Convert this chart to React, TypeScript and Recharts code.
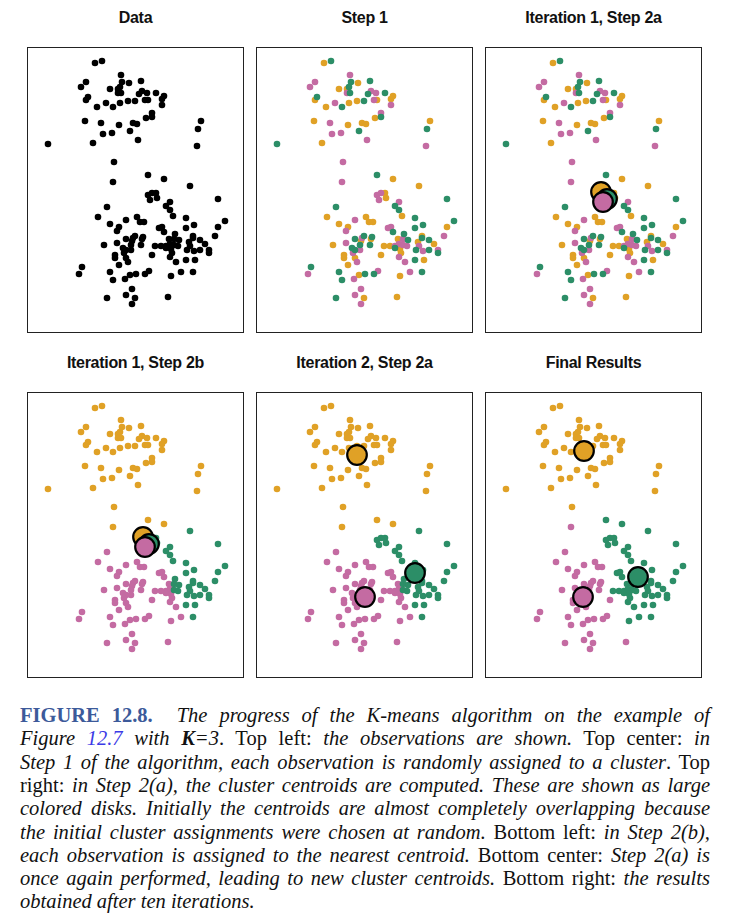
import { Scatter, ScatterChart, XAxis, YAxis } from "recharts";

// observation coordinates (same simulated data in every panel)
const obsX = [
  68, 75, 94, 59, 54, 95, 102, 114, 83, 91,
  93, 91, 94, 115, 112, 120, 118, 121, 129, 137,
  135, 135, 61, 59, 70, 79, 86, 93, 101, 108,
  125, 125, 119, 58, 74, 92, 106, 110, 103, 85,
  76, 174, 171, 170, 21, 66, 111, 87, 121, 137,
  86, 163, 121, 125, 129, 123, 130, 143, 139, 143,
  80, 191, 71, 146, 99, 110, 113, 117, 83, 92,
  90, 159, 167, 159, 198, 191, 132, 135, 137, 148,
  99, 108, 106, 105, 116, 115, 77, 90, 96, 99,
  104, 104, 114, 128, 134, 142, 147, 152, 139, 143,
  147, 151, 139, 144, 145, 143, 166, 166, 162, 163,
  160, 167, 173, 173, 178, 182, 182, 188, 88, 88,
  97, 99, 101, 125, 149, 159, 168, 92, 55, 52,
  83, 86, 98, 103, 109, 118, 122, 144, 154, 166,
  105, 99, 108, 105, 80, 141,
];
const obsY = [
  270, 272, 258, 251, 246, 251, 250, 252, 244, 244,
  246, 240, 240, 242, 239, 240, 233, 233, 240, 237,
  234, 228, 236, 233, 226, 230, 226, 230, 232, 232,
  220, 216, 215, 212, 210, 208, 210, 209, 202, 200,
  199, 212, 204, 187, 189, 190, 193, 171, 158, 154,
  151, 147, 138, 140, 140, 133, 135, 131, 127, 123,
  126, 134, 116, 117, 113, 116, 111, 111, 109, 106,
  102, 115, 108, 105, 112, 106, 105, 106, 101, 99,
  94, 97, 95, 92, 96, 94, 88, 90, 85, 83,
  88, 83, 88, 87, 87, 94, 94, 93, 87, 89,
  88, 87, 85, 84, 80, 76, 97, 95, 91, 87,
  83, 82, 83, 93, 89, 83, 80, 97, 78, 75,
  80, 75, 71, 78, 71, 73, 73, 68, 66, 59,
  61, 53, 54, 58, 59, 59, 62, 57, 61, 61,
  44, 38, 35, 29, 35, 36,
];

// cluster labels per step (O = orange, G = green, P = pink)
const step1Labels =
  "OGPPPGOGOO" + "GPGPGPPOGO" + "OPGOOPGOOG" + "PGOOPOOOGP" + "POGPGOPPGO" +
  "POPPOPOPGG" + "GGOOPOOOOO" + "PGGGGOPPGG" + "GGPOGOOPGG" + "GPGOOOPGPP" +
  "PPGOOPOGOP" + "GPGGOPGPOO" + "POPOPGOOGP" + "GGPOGGPOPG" + "PPOPGO";
const iter1Labels =
  "OOOOOOOOOO" + "OOOOOOOOOO" + "OOOOOOOOOO" + "OOOOOOOOOO" + "OOOOOOOOOO" +
  "OGGGGGGGGG" + "PGPGPPPPPP" + "PGGGGGPPPG" + "PPPPPPPPPP" + "PPPPPPGGPP" +
  "GGPPPPGGGG" + "GGGGGGGGPP" + "PPPPPGGPPP" + "PPPPPPPPPG" + "PPPPPP";
const finalLabels =
  "OOOOOOOOOO" + "OOOOOOOOOO" + "OOOOOOOOOO" + "OOOOOOOOOO" + "OOOOOOOOGG" +
  "PGGGGGGGGG" + "PGPGPPPPPP" + "PGGGGGGGGG" + "PPPPPPPPPP" + "PPPGGGGGGG" +
  "GGGGGGGGGG" + "GGGGGGGGPP" + "PPPPGGGPPP" + "PPPPPPPGGG" + "PPPPPP";

// centroids: [orange, green, pink]
const centroidsIter1 = [
  { k: "O", x: 116, y: 141 },
  { k: "G", x: 122, y: 134 },
  { k: "P", x: 118, y: 131 },
];
const centroidsIter2 = [
  { k: "O", x: 101, y: 223 },
  { k: "G", x: 159, y: 105 },
  { k: "P", x: 109, y: 81 },
];
const centroidsFinal = [
  { k: "O", x: 99, y: 227 },
  { k: "G", x: 153, y: 101 },
  { k: "P", x: 98, y: 81 },
];

const COLORS: Record<string, string> = {
  O: "#E0A126",
  G: "#2C8E67",
  P: "#C46BA2",
  D: "#000000",
};

const PW = 217;
const PH = 286;

type Centroid = { k: string; x: number; y: number };

interface PanelProps {
  title: string;
  left: number;
  top: number;
  labels: string | null;
  centroids?: Centroid[];
}

const smallDot = (fill: string) => (p: any) =>
  <circle cx={p.cx} cy={p.cy} r={3.3} fill={fill} />;

const bigDot = (fill: string) => (p: any) =>
  <circle cx={p.cx} cy={p.cy} r={9.8} fill={fill} stroke="#000" strokeWidth={2.2} />;

function Panel({ title, left, top, labels, centroids }: PanelProps) {
  const pts = obsX.map((x, i) => ({ x, y: obsY[i], k: labels ? labels[i] : "D" }));
  const groups = labels ? ["O", "P", "G"] : ["D"];
  return (
    <>
      <div
        style={{
          position: "absolute",
          left,
          top: top - 38,
          width: PW,
          textAlign: "center",
          fontFamily: "'Liberation Sans', Arial, sans-serif",
          fontWeight: 700,
          fontSize: 16,
          letterSpacing: -0.3,
          color: "#111",
        }}
      >
        {title}
      </div>
      <div style={{ position: "absolute", left, top }}>
        <ScatterChart width={PW} height={PH} margin={{ top: 0, right: 0, bottom: 0, left: 0 }}>
          <XAxis type="number" dataKey="x" domain={[0, PW]} hide />
          <YAxis type="number" dataKey="y" domain={[0, PH]} hide />
          {groups.map((g) => (
            <Scatter
              key={g}
              data={pts.filter((p) => p.k === g)}
              shape={smallDot(COLORS[g])}
              isAnimationActive={false}
            />
          ))}
          {centroids?.map((c) => (
            <Scatter
              key={"c" + c.k}
              data={[c]}
              shape={bigDot(COLORS[c.k])}
              isAnimationActive={false}
            />
          ))}
        </ScatterChart>
      </div>
      <div
        style={{
          position: "absolute",
          left,
          top,
          width: PW,
          height: PH,
          boxSizing: "border-box",
          border: "1.5px solid #222",
          pointerEvents: "none",
        }}
      />
    </>
  );
}

type Seg = [string, string];
const captionLines: Seg[][] = [
  [["FIGURE 12.8.", "b"], ["  The progress of the K-means algorithm on the example of", "i"]],
  [["Figure ", "i"], ["12.7", "l"], [" with ", "i"], ["K", "k"], ["=3", "i"], [". Top left: ", "r"], ["the observations are shown.", "i"], [" Top center: ", "r"], ["in", "i"]],
  [["Step 1 of the algorithm, each observation is randomly assigned to a cluster", "i"], [". Top", "r"]],
  [["right: ", "r"], ["in Step 2(a), the cluster centroids are computed. These are shown as large", "i"]],
  [["colored disks. Initially the centroids are almost completely overlapping because", "i"]],
  [["the initial cluster assignments were chosen at random.", "i"], [" Bottom left: ", "r"], ["in Step 2(b),", "i"]],
  [["each observation is assigned to the nearest centroid.", "i"], [" Bottom center: ", "r"], ["Step 2(a) is", "i"]],
  [["once again performed, leading to new cluster centroids.", "i"], [" Bottom right: ", "r"], ["the results", "i"]],
  [["obtained after ten iterations.", "i"]],
];

const segStyle = (s: string): React.CSSProperties => {
  if (s === "b") return { fontWeight: 700, color: "#3C5A9A", fontStyle: "normal" };
  if (s === "i") return { fontStyle: "italic" };
  if (s === "l") return { fontStyle: "italic", color: "#3A3AE6" };
  if (s === "k") return { fontStyle: "italic", fontWeight: 700 };
  return { fontStyle: "normal" };
};

export default function App() {
  return (
    <div style={{ position: "absolute", left: 0, top: 0, width: 729, height: 922, background: "#fff" }}>
      <Panel title="Data" left={27} top={47} labels={null} />
      <Panel title="Step 1" left={256} top={47} labels={step1Labels} />
      <Panel title="Iteration 1, Step 2a" left={485} top={47} labels={step1Labels} centroids={centroidsIter1} />
      <Panel title="Iteration 1, Step 2b" left={27} top={392} labels={iter1Labels} centroids={centroidsIter1} />
      <Panel title="Iteration 2, Step 2a" left={256} top={392} labels={iter1Labels} centroids={centroidsIter2} />
      <Panel title="Final Results" left={485} top={392} labels={finalLabels} centroids={centroidsFinal} />
      {captionLines.map((line, i) => (
        <div
          key={i}
          style={{
            position: "absolute",
            left: 20,
            top: 703 + i * 23.3,
            width: 690,
            fontFamily: "'Liberation Serif', 'Times New Roman', serif",
            fontSize: 20.5,
            lineHeight: "25px",
            color: "#111",
            textAlign: "justify",
            textAlignLast: i === captionLines.length - 1 ? "left" : "justify",
            whiteSpace: "pre-wrap",
          }}
        >
          {line.map(([t, s], j) => (
            <span key={j} style={segStyle(s)}>
              {t}
            </span>
          ))}
        </div>
      ))}
    </div>
  );
}
